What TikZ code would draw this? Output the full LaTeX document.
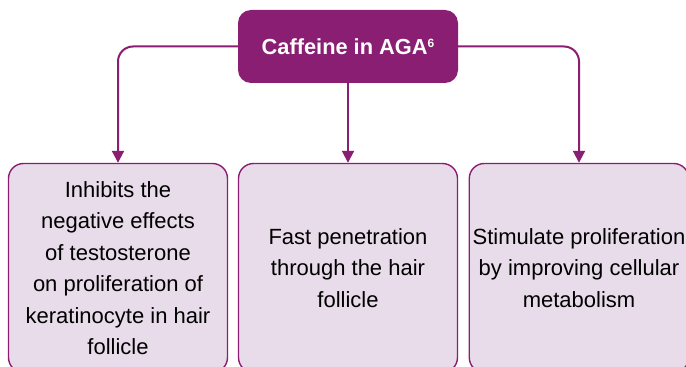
\documentclass[tikz,border=0pt]{standalone}
\usepackage{fontspec}
\setmainfont{Liberation Sans}
\usepackage{tikz}
\usetikzlibrary{%
	arrows.meta%
}
\definecolor{Plum}{HTML}{8A1E72}
\definecolor{Lilac}{HTML}{E8DCEA}

\tikzset{
  headbox/.style={fill=Plum,text=white,rounded corners=13pt,minimum width=220pt,minimum height=73pt,font=\fontsize{21.8}{26}\selectfont\bfseries},
  effectbox/.style={draw=Plum,line width=1.4pt,fill=Lilac,rounded corners=15pt,minimum width=219pt,minimum height=209pt,align=center,font=\fontsize{22}{31.5}\selectfont},
  link/.style={draw=Plum,line width=2pt,rounded corners=15pt,-{Triangle[width=12pt,length=12pt]}}
}

\begin{document}
\begin{tikzpicture}[x=1pt,y=1pt]
\clip (0,0) rectangle (686,367);
\useasboundingbox (0,0) rectangle (686,367);

\node [headbox] (caffeine) at (348,320.5) {Caffeine in AGA\raisebox{7pt}{\fontsize{12}{12}\selectfont 6}};

\node [effectbox] (inhibit) at (118,99) {Inhibits the\\negative effects\\of testosterone\\on proliferation of\\keratinocyte in hair\\follicle};
\node [effectbox] (penetrate) at (348,99) {Fast penetration\\through the hair\\follicle};
\node [effectbox] (stimulate) at (579,99) {Stimulate proliferation\\by improving cellular\\metabolism};

\draw [link] (caffeine.west) -| (inhibit.north);
\draw [link] (caffeine.south) -- (penetrate.north);
\draw [link] (caffeine.east) -| (stimulate.north);
\end{tikzpicture}
\end{document}
